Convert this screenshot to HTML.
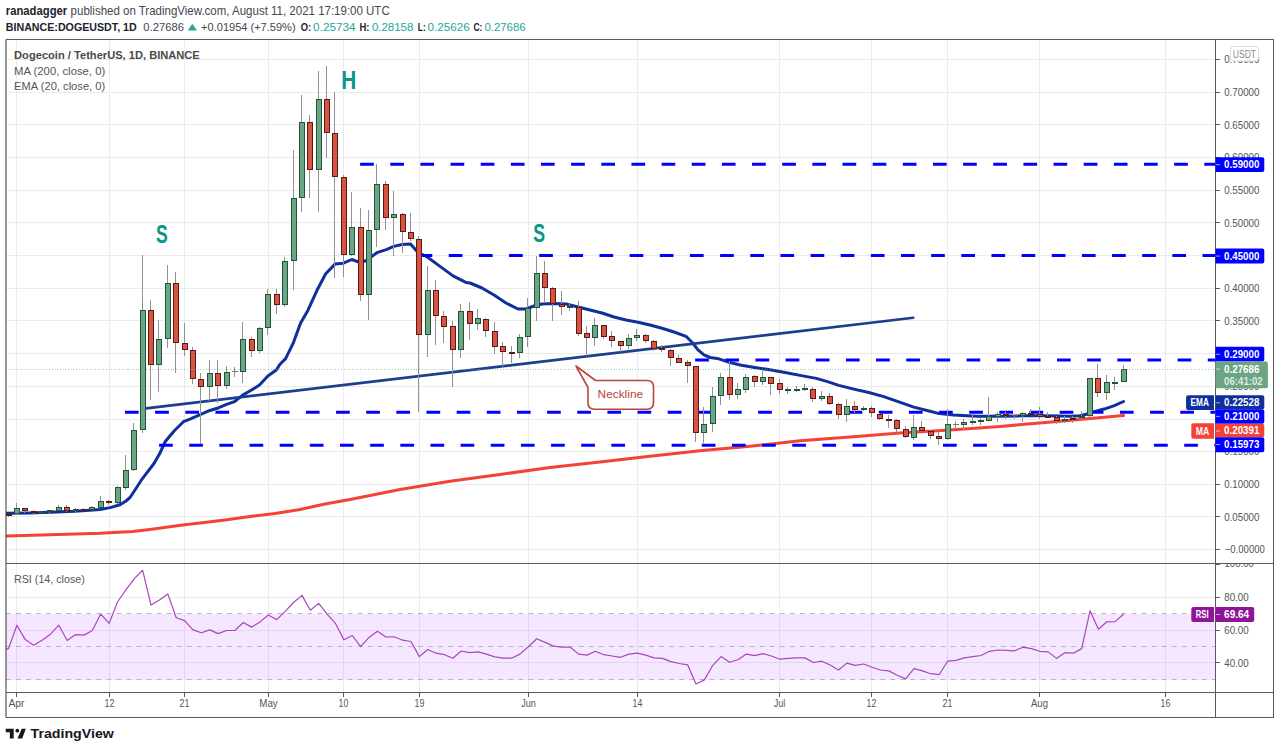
<!DOCTYPE html><html><head><meta charset="utf-8"><title>DOGEUSDT chart</title><style>html,body{margin:0;padding:0;background:#fff;width:1280px;height:751px;overflow:hidden}svg{display:block;font-family:"Liberation Sans",sans-serif}</style></head><body>
<svg width="1280" height="751" viewBox="0 0 1280 751">
<rect width="1280" height="751" fill="#fff"/>
<defs><clipPath id="cp"><rect x="6" y="40" width="1209.5" height="523.5"/></clipPath><clipPath id="cr"><rect x="6" y="563.5" width="1209.5" height="128.5"/></clipPath><clipPath id="cra"><rect x="1215.5" y="564.0" width="58.5" height="128.5"/></clipPath></defs>
<text x="5.8" y="15.4" font-size="12.6" fill="#1e222d" font-weight="bold" textLength="61.4" lengthAdjust="spacingAndGlyphs">ranadagger</text>
<text x="70.6" y="15.4" font-size="12.6" fill="#434651" textLength="319.1" lengthAdjust="spacingAndGlyphs">published on TradingView.com, August 11, 2021 17:19:00 UTC</text>
<text x="5.8" y="30.6" font-size="11" fill="#1e222d" font-weight="bold" textLength="130.9" lengthAdjust="spacingAndGlyphs">BINANCE:DOGEUSDT, 1D</text>
<text x="143.3" y="30.6" font-size="11" fill="#434651" textLength="40.6" lengthAdjust="spacingAndGlyphs">0.27686</text>
<path d="M187.8 30.5 L192.35 23.8 L196.9 30.5 Z" fill="#26a69a"/>
<text x="201.1" y="30.6" font-size="11" fill="#434651" textLength="94.5" lengthAdjust="spacingAndGlyphs">+0.01954 (+7.59%)</text>
<text x="300.8" y="30.6" font-size="11" fill="#1e222d" font-weight="bold" textLength="10.4" lengthAdjust="spacingAndGlyphs">O:</text>
<text x="313.1" y="30.6" font-size="11" fill="#26a69a" textLength="42.5" lengthAdjust="spacingAndGlyphs">0.25734</text>
<text x="359.4" y="30.6" font-size="11" fill="#1e222d" font-weight="bold" textLength="10" lengthAdjust="spacingAndGlyphs">H:</text>
<text x="371.9" y="30.6" font-size="11" fill="#26a69a" textLength="41.5" lengthAdjust="spacingAndGlyphs">0.28158</text>
<text x="417.8" y="30.6" font-size="11" fill="#1e222d" font-weight="bold" textLength="8" lengthAdjust="spacingAndGlyphs">L:</text>
<text x="427.5" y="30.6" font-size="11" fill="#26a69a" textLength="42.2" lengthAdjust="spacingAndGlyphs">0.25626</text>
<text x="473.4" y="30.6" font-size="11" fill="#1e222d" font-weight="bold" textLength="9" lengthAdjust="spacingAndGlyphs">C:</text>
<text x="484.4" y="30.6" font-size="11" fill="#26a69a" textLength="41.2" lengthAdjust="spacingAndGlyphs">0.27686</text>
<g stroke="#ebebeb" stroke-width="1" shape-rendering="crispEdges">
<line x1="6" y1="549.5" x2="1215.5" y2="549.5"/>
<line x1="6" y1="516.5" x2="1215.5" y2="516.5"/>
<line x1="6" y1="484.5" x2="1215.5" y2="484.5"/>
<line x1="6" y1="451.5" x2="1215.5" y2="451.5"/>
<line x1="6" y1="419.5" x2="1215.5" y2="419.5"/>
<line x1="6" y1="386.5" x2="1215.5" y2="386.5"/>
<line x1="6" y1="353.5" x2="1215.5" y2="353.5"/>
<line x1="6" y1="320.5" x2="1215.5" y2="320.5"/>
<line x1="6" y1="288.5" x2="1215.5" y2="288.5"/>
<line x1="6" y1="255.5" x2="1215.5" y2="255.5"/>
<line x1="6" y1="222.5" x2="1215.5" y2="222.5"/>
<line x1="6" y1="190.5" x2="1215.5" y2="190.5"/>
<line x1="6" y1="157.5" x2="1215.5" y2="157.5"/>
<line x1="6" y1="124.5" x2="1215.5" y2="124.5"/>
<line x1="6" y1="92.5" x2="1215.5" y2="92.5"/>
<line x1="6" y1="59.5" x2="1215.5" y2="59.5"/>
<line x1="6" y1="597.5" x2="1215.5" y2="597.5"/>
<line x1="6" y1="630.5" x2="1215.5" y2="630.5"/>
<line x1="6" y1="662.5" x2="1215.5" y2="662.5"/>
<line x1="16.5" y1="40" x2="16.5" y2="692"/>
<line x1="109.5" y1="40" x2="109.5" y2="692"/>
<line x1="184.5" y1="40" x2="184.5" y2="692"/>
<line x1="268.5" y1="40" x2="268.5" y2="692"/>
<line x1="343.5" y1="40" x2="343.5" y2="692"/>
<line x1="419.5" y1="40" x2="419.5" y2="692"/>
<line x1="528.5" y1="40" x2="528.5" y2="692"/>
<line x1="637.5" y1="40" x2="637.5" y2="692"/>
<line x1="779.5" y1="40" x2="779.5" y2="692"/>
<line x1="871.5" y1="40" x2="871.5" y2="692"/>
<line x1="947.5" y1="40" x2="947.5" y2="692"/>
<line x1="1039.5" y1="40" x2="1039.5" y2="692"/>
<line x1="1165.5" y1="40" x2="1165.5" y2="692"/>
</g>
<rect x="6" y="614" width="1209.5" height="66" fill="#9915ff" fill-opacity="0.1"/>
<g stroke="#b4b7be" stroke-width="1" stroke-dasharray="4.7 5.35">
<line x1="6" y1="613.5" x2="1215.5" y2="613.5"/>
<line x1="6" y1="646.5" x2="1215.5" y2="646.5"/>
<line x1="6" y1="679.5" x2="1215.5" y2="679.5"/>
</g>
<g clip-path="url(#cp)" fill="none" stroke-linejoin="round" stroke-linecap="round">
<polyline points="4,536 50,534.7 100,533.3 132.5,531.4 150,529.4 182.5,525 200,523 225,520 250,516.5 275,513.5 300,509.5 325,504 350,499.5 375,494.5 400,489.5 450,481.3 500,474.5 550,467.5 600,462 650,456.3 700,450.7 750,446.3 800,440.8 850,437 900,433 950,430 1000,426.4 1060,421.3 1123.5,415.6" stroke="#f44336" stroke-width="3"/>
<polyline points="4,513.4 30,513 50,512.3 75,511.2 100,509.5 110,507.6 120,504.8 126,501 130,497.5 134,491.5 142.6,478.3 154,463.5 160,453 165.3,441.5 174.3,430.7 183.4,421.7 190,419.1 199.6,414.9 209.2,410.7 218.8,407.7 226,404.7 234.3,401.7 242.7,395.1 251.1,390.3 259.5,385 267.9,376 276.3,370 280,364.2 285.6,358.6 293,343.7 300.5,323.2 308,310.2 317.3,289.7 325.7,273.8 335,264.1 343.4,263.2 351.8,259.5 360.2,262.6 365.8,260.8 376.9,252.7 386.3,249.6 393.7,246.4 402.1,244.5 410.5,244 418,252.4 427.3,257 440,266.4 453,275.9 466.4,282.6 470,283 482,288 494,295 506,303 518,309 526,309 534,306 542,304 554,303.6 566,304 578,307 590,310 602,313 614,317 626,320 638,322.3 650,325 662,328.3 674,332 686,336.3 692,342.3 698,349.9 704,354.9 710,357.5 718.8,358.8 730,362.5 741.3,365.3 756.3,367.8 771.3,370 786.3,372.8 801.3,375.6 816.3,378.4 827.5,381.6 838.8,385.4 853.8,389.1 868.8,392.5 883.8,396.6 898.8,401.9 913.8,407.1 929,411 939.4,413.6 953.4,415 976.9,416.3 1000.3,416.3 1023.8,415.8 1047.2,415.8 1070.6,416.3 1080,415.8 1086.3,414.2 1094,411.6 1105,408.8 1114.4,405.6 1123.5,401.5" stroke="#0f2f9b" stroke-width="3"/>
</g>
<g clip-path="url(#cp)">
<line x1="360.1" y1="164.17" x2="1215.5" y2="164.17" stroke="#0000ff" stroke-width="3" stroke-dasharray="13.7 16.45"/>
<line x1="418.6" y1="255.6" x2="1215.5" y2="255.6" stroke="#0000ff" stroke-width="3" stroke-dasharray="13.7 16.45"/>
<line x1="695.2" y1="360.1" x2="1215.5" y2="360.1" stroke="#0000ff" stroke-width="3" stroke-dasharray="13.7 16.45"/>
<line x1="125" y1="412.35" x2="1215.5" y2="412.35" stroke="#0000ff" stroke-width="3" stroke-dasharray="13.7 16.45"/>
<line x1="159.1" y1="445.18" x2="1215.5" y2="445.18" stroke="#0000ff" stroke-width="3" stroke-dasharray="13.7 16.45"/>
<line x1="146" y1="408.4" x2="913.3" y2="317.7" stroke="#1a3f8c" stroke-width="2.6" stroke-linecap="round"/>
</g>
<g clip-path="url(#cp)">
<path d="M8.5 516V517M16.5 503V508M16.5 514V515M24.5 511V513M33.5 510V511M33.5 513V514M49.5 512V513M58.5 505V507M66.5 505V507M66.5 511V512M75.5 508V509M75.5 511V512M83.5 508V509M91.5 506V507M100.5 496V501M108.5 500V501M108.5 503V505M117.5 486V487M117.5 503V504M125.5 455V470M125.5 488V490M133.5 423V430M133.5 470V471M142.5 255V310M142.5 430V433M150.5 300V310M150.5 365V400M158.5 320V339M158.5 365V392M167.5 265V283M167.5 339V348M175.5 272V283M175.5 343V373M184.5 323V343M184.5 350V356M192.5 347V350M192.5 379V384M200.5 373V379M200.5 387V444M209.5 360V373M209.5 387V401M217.5 360V373M217.5 386V403M226.5 366V372M226.5 386V389M234.5 367V371M234.5 372V377M242.5 322V339M242.5 372V383M251.5 337V339M251.5 351V357M259.5 327V328M259.5 351V353M267.5 289V294M267.5 328V335M276.5 289V294M276.5 305V314M284.5 257V261M284.5 305V307M293.5 150V198M293.5 261V290M301.5 95V122M301.5 198V212M309.5 115V122M309.5 170V198M318.5 71V99M318.5 170V212M326.5 66V99M326.5 133V158M334.5 92V133M334.5 177V278M343.5 175V177M343.5 255V277M351.5 192V227M351.5 255V256M360.5 208V227M360.5 295V301M368.5 210V230M368.5 295V320M376.5 164V184M376.5 230V247M385.5 181V184M385.5 218V230M393.5 191V214M393.5 218V256M402.5 213V214M402.5 232V253M410.5 213V232M410.5 239V241M418.5 236V239M418.5 335V412M427.5 266V290M427.5 335V357M435.5 280V290M435.5 316V345M443.5 311V316M443.5 327V343M452.5 321V326M452.5 350V387M460.5 304V311M460.5 350V358M469.5 302V311M469.5 324V340M477.5 309V318M477.5 324V330M485.5 318V319M485.5 331V337M494.5 322V331M494.5 347V354M502.5 342V346M502.5 352V367M511.5 346V352M511.5 354V363M519.5 334V337M519.5 353V358M527.5 298V308M527.5 337V347M536.5 256V273M536.5 308V321M544.5 261V273M544.5 288V303M552.5 287V288M552.5 304V321M561.5 291V304M561.5 307V315M569.5 303V306M569.5 308V311M578.5 301V307M578.5 334V336M586.5 326V333M586.5 338V356M594.5 318V325M594.5 338V346M603.5 337V339M611.5 331V336M611.5 341V347M620.5 346V352M628.5 334V338M628.5 346V349M636.5 329V335M636.5 338V341M645.5 334V335M645.5 341V343M653.5 340V341M653.5 349V351M661.5 345V348M661.5 350V352M670.5 349V350M670.5 358V366M678.5 355V358M687.5 360V362M687.5 366V383M695.5 433V442M703.5 407V424M703.5 433V443M712.5 387V396M712.5 424V432M720.5 373V377M720.5 396V405M729.5 361V377M729.5 395V400M737.5 383V389M737.5 395V399M745.5 374V377M745.5 390V393M754.5 375V376M754.5 382V387M762.5 369V377M762.5 382V385M770.5 384V395M779.5 379V383M779.5 390V394M787.5 387V389M787.5 391V394M796.5 386V389M796.5 391V392M804.5 384V388M804.5 390V391M812.5 387V389M812.5 399V402M821.5 391V396M821.5 399V401M829.5 393V396M829.5 404V405M838.5 403V404M838.5 415V419M846.5 399V406M846.5 415V422M854.5 401V406M854.5 410V413M863.5 406V408M863.5 410V411M871.5 406V408M871.5 413V417M879.5 413V414M879.5 419V420M888.5 415V419M888.5 421V428M896.5 419V420M896.5 429V432M905.5 426V429M905.5 437V438M913.5 415V427M913.5 438V440M921.5 421V427M921.5 431V432M930.5 430V431M930.5 436V439M938.5 432V436M938.5 439V445M947.5 409V424M947.5 439V440M955.5 421V424M955.5 425V428M963.5 419V422M963.5 425V430M972.5 415V421M972.5 423V425M980.5 418V420M980.5 422V425M988.5 397V416M997.5 412V414M997.5 417V422M1005.5 410V414M1005.5 416V419M1014.5 414V415M1014.5 416V419M1022.5 412V413M1022.5 416V422M1030.5 409V413M1039.5 407V414M1039.5 417V419M1047.5 412V416M1056.5 416V417M1056.5 421V424M1064.5 416V419M1064.5 421V423M1072.5 416V418M1072.5 420V423M1081.5 411V416M1081.5 418V420M1089.5 416V417M1097.5 364V378M1097.5 393V397M1106.5 375V382M1106.5 393V400M1114.5 377V382M1114.5 384V390M1123.5 365V369" stroke="#929294" stroke-width="1" fill="none"/>
<rect x="6" y="514" width="6" height="2" fill="#5b1a13"/><rect x="14.5" y="508.5" width="5" height="5" fill="#6ba583" stroke="#225437" stroke-width="1"/><rect x="22.5" y="508.5" width="5" height="2" fill="#d75442" stroke="#5b1a13" stroke-width="1"/><rect x="31" y="511" width="6" height="2" fill="#5b1a13"/><rect x="39" y="512" width="6" height="2" fill="#225437"/><rect x="47" y="510" width="6" height="2" fill="#225437"/><rect x="56.5" y="507.5" width="5" height="3" fill="#6ba583" stroke="#225437" stroke-width="1"/><rect x="64.5" y="507.5" width="5" height="3" fill="#d75442" stroke="#5b1a13" stroke-width="1"/><rect x="73" y="509" width="6" height="2" fill="#225437"/><rect x="81" y="509" width="6" height="2" fill="#5b1a13"/><rect x="89.5" y="507.5" width="5" height="2" fill="#6ba583" stroke="#225437" stroke-width="1"/><rect x="98.5" y="501.5" width="5" height="6" fill="#6ba583" stroke="#225437" stroke-width="1"/><rect x="106" y="501" width="6" height="2" fill="#5b1a13"/><rect x="115.5" y="487.5" width="5" height="15" fill="#6ba583" stroke="#225437" stroke-width="1"/><rect x="123.5" y="470.5" width="5" height="17" fill="#6ba583" stroke="#225437" stroke-width="1"/><rect x="131.5" y="430.5" width="5" height="39" fill="#6ba583" stroke="#225437" stroke-width="1"/><rect x="140.5" y="310.5" width="5" height="119" fill="#6ba583" stroke="#225437" stroke-width="1"/><rect x="148.5" y="310.5" width="5" height="54" fill="#d75442" stroke="#5b1a13" stroke-width="1"/><rect x="156.5" y="339.5" width="5" height="25" fill="#6ba583" stroke="#225437" stroke-width="1"/><rect x="165.5" y="283.5" width="5" height="55" fill="#6ba583" stroke="#225437" stroke-width="1"/><rect x="173.5" y="283.5" width="5" height="59" fill="#d75442" stroke="#5b1a13" stroke-width="1"/><rect x="182.5" y="343.5" width="5" height="6" fill="#d75442" stroke="#5b1a13" stroke-width="1"/><rect x="190.5" y="350.5" width="5" height="28" fill="#d75442" stroke="#5b1a13" stroke-width="1"/><rect x="198.5" y="379.5" width="5" height="7" fill="#d75442" stroke="#5b1a13" stroke-width="1"/><rect x="207.5" y="373.5" width="5" height="13" fill="#6ba583" stroke="#225437" stroke-width="1"/><rect x="215.5" y="373.5" width="5" height="12" fill="#d75442" stroke="#5b1a13" stroke-width="1"/><rect x="224.5" y="372.5" width="5" height="13" fill="#6ba583" stroke="#225437" stroke-width="1"/><rect x="232" y="371" width="6" height="1" fill="#4f8a66"/><rect x="240.5" y="339.5" width="5" height="32" fill="#6ba583" stroke="#225437" stroke-width="1"/><rect x="249.5" y="339.5" width="5" height="11" fill="#d75442" stroke="#5b1a13" stroke-width="1"/><rect x="257.5" y="328.5" width="5" height="22" fill="#6ba583" stroke="#225437" stroke-width="1"/><rect x="265.5" y="294.5" width="5" height="33" fill="#6ba583" stroke="#225437" stroke-width="1"/><rect x="274.5" y="294.5" width="5" height="10" fill="#d75442" stroke="#5b1a13" stroke-width="1"/><rect x="282.5" y="261.5" width="5" height="43" fill="#6ba583" stroke="#225437" stroke-width="1"/><rect x="291.5" y="198.5" width="5" height="62" fill="#6ba583" stroke="#225437" stroke-width="1"/><rect x="299.5" y="122.5" width="5" height="75" fill="#6ba583" stroke="#225437" stroke-width="1"/><rect x="307.5" y="122.5" width="5" height="47" fill="#d75442" stroke="#5b1a13" stroke-width="1"/><rect x="316.5" y="99.5" width="5" height="70" fill="#6ba583" stroke="#225437" stroke-width="1"/><rect x="324.5" y="99.5" width="5" height="33" fill="#d75442" stroke="#5b1a13" stroke-width="1"/><rect x="332.5" y="133.5" width="5" height="43" fill="#d75442" stroke="#5b1a13" stroke-width="1"/><rect x="341.5" y="177.5" width="5" height="77" fill="#d75442" stroke="#5b1a13" stroke-width="1"/><rect x="349.5" y="227.5" width="5" height="27" fill="#6ba583" stroke="#225437" stroke-width="1"/><rect x="358.5" y="227.5" width="5" height="67" fill="#d75442" stroke="#5b1a13" stroke-width="1"/><rect x="366.5" y="230.5" width="5" height="64" fill="#6ba583" stroke="#225437" stroke-width="1"/><rect x="374.5" y="184.5" width="5" height="45" fill="#6ba583" stroke="#225437" stroke-width="1"/><rect x="383.5" y="184.5" width="5" height="33" fill="#d75442" stroke="#5b1a13" stroke-width="1"/><rect x="391.5" y="214.5" width="5" height="3" fill="#6ba583" stroke="#225437" stroke-width="1"/><rect x="400.5" y="214.5" width="5" height="17" fill="#d75442" stroke="#5b1a13" stroke-width="1"/><rect x="408.5" y="232.5" width="5" height="6" fill="#d75442" stroke="#5b1a13" stroke-width="1"/><rect x="416.5" y="239.5" width="5" height="95" fill="#d75442" stroke="#5b1a13" stroke-width="1"/><rect x="425.5" y="290.5" width="5" height="44" fill="#6ba583" stroke="#225437" stroke-width="1"/><rect x="433.5" y="290.5" width="5" height="25" fill="#d75442" stroke="#5b1a13" stroke-width="1"/><rect x="441.5" y="316.5" width="5" height="10" fill="#d75442" stroke="#5b1a13" stroke-width="1"/><rect x="450.5" y="326.5" width="5" height="23" fill="#d75442" stroke="#5b1a13" stroke-width="1"/><rect x="458.5" y="311.5" width="5" height="38" fill="#6ba583" stroke="#225437" stroke-width="1"/><rect x="467.5" y="311.5" width="5" height="12" fill="#d75442" stroke="#5b1a13" stroke-width="1"/><rect x="475.5" y="318.5" width="5" height="5" fill="#6ba583" stroke="#225437" stroke-width="1"/><rect x="483.5" y="319.5" width="5" height="11" fill="#d75442" stroke="#5b1a13" stroke-width="1"/><rect x="492.5" y="331.5" width="5" height="15" fill="#d75442" stroke="#5b1a13" stroke-width="1"/><rect x="500.5" y="346.5" width="5" height="5" fill="#d75442" stroke="#5b1a13" stroke-width="1"/><rect x="509" y="352" width="6" height="2" fill="#5b1a13"/><rect x="517.5" y="337.5" width="5" height="15" fill="#6ba583" stroke="#225437" stroke-width="1"/><rect x="525.5" y="308.5" width="5" height="28" fill="#6ba583" stroke="#225437" stroke-width="1"/><rect x="534.5" y="273.5" width="5" height="34" fill="#6ba583" stroke="#225437" stroke-width="1"/><rect x="542.5" y="273.5" width="5" height="14" fill="#d75442" stroke="#5b1a13" stroke-width="1"/><rect x="550.5" y="288.5" width="5" height="15" fill="#d75442" stroke="#5b1a13" stroke-width="1"/><rect x="559.5" y="304.5" width="5" height="2" fill="#d75442" stroke="#5b1a13" stroke-width="1"/><rect x="567" y="306" width="6" height="2" fill="#225437"/><rect x="576.5" y="307.5" width="5" height="26" fill="#d75442" stroke="#5b1a13" stroke-width="1"/><rect x="584.5" y="333.5" width="5" height="4" fill="#d75442" stroke="#5b1a13" stroke-width="1"/><rect x="592.5" y="325.5" width="5" height="12" fill="#6ba583" stroke="#225437" stroke-width="1"/><rect x="601.5" y="325.5" width="5" height="11" fill="#d75442" stroke="#5b1a13" stroke-width="1"/><rect x="609.5" y="336.5" width="5" height="4" fill="#d75442" stroke="#5b1a13" stroke-width="1"/><rect x="618.5" y="341.5" width="5" height="4" fill="#d75442" stroke="#5b1a13" stroke-width="1"/><rect x="626.5" y="338.5" width="5" height="7" fill="#6ba583" stroke="#225437" stroke-width="1"/><rect x="634.5" y="335.5" width="5" height="2" fill="#6ba583" stroke="#225437" stroke-width="1"/><rect x="643.5" y="335.5" width="5" height="5" fill="#d75442" stroke="#5b1a13" stroke-width="1"/><rect x="651.5" y="341.5" width="5" height="7" fill="#d75442" stroke="#5b1a13" stroke-width="1"/><rect x="659" y="348" width="6" height="2" fill="#5b1a13"/><rect x="668.5" y="350.5" width="5" height="7" fill="#d75442" stroke="#5b1a13" stroke-width="1"/><rect x="676.5" y="358.5" width="5" height="4" fill="#d75442" stroke="#5b1a13" stroke-width="1"/><rect x="685.5" y="362.5" width="5" height="3" fill="#d75442" stroke="#5b1a13" stroke-width="1"/><rect x="693.5" y="366.5" width="5" height="66" fill="#d75442" stroke="#5b1a13" stroke-width="1"/><rect x="701.5" y="424.5" width="5" height="8" fill="#6ba583" stroke="#225437" stroke-width="1"/><rect x="710.5" y="396.5" width="5" height="27" fill="#6ba583" stroke="#225437" stroke-width="1"/><rect x="718.5" y="377.5" width="5" height="18" fill="#6ba583" stroke="#225437" stroke-width="1"/><rect x="727.5" y="377.5" width="5" height="17" fill="#d75442" stroke="#5b1a13" stroke-width="1"/><rect x="735.5" y="389.5" width="5" height="5" fill="#6ba583" stroke="#225437" stroke-width="1"/><rect x="743.5" y="377.5" width="5" height="12" fill="#6ba583" stroke="#225437" stroke-width="1"/><rect x="752.5" y="376.5" width="5" height="5" fill="#d75442" stroke="#5b1a13" stroke-width="1"/><rect x="760.5" y="377.5" width="5" height="4" fill="#6ba583" stroke="#225437" stroke-width="1"/><rect x="768.5" y="377.5" width="5" height="6" fill="#d75442" stroke="#5b1a13" stroke-width="1"/><rect x="777.5" y="383.5" width="5" height="6" fill="#d75442" stroke="#5b1a13" stroke-width="1"/><rect x="785" y="389" width="6" height="2" fill="#225437"/><rect x="794" y="389" width="6" height="2" fill="#225437"/><rect x="802" y="388" width="6" height="2" fill="#225437"/><rect x="810.5" y="389.5" width="5" height="9" fill="#d75442" stroke="#5b1a13" stroke-width="1"/><rect x="819.5" y="396.5" width="5" height="2" fill="#6ba583" stroke="#225437" stroke-width="1"/><rect x="827.5" y="396.5" width="5" height="7" fill="#d75442" stroke="#5b1a13" stroke-width="1"/><rect x="836.5" y="404.5" width="5" height="10" fill="#d75442" stroke="#5b1a13" stroke-width="1"/><rect x="844.5" y="406.5" width="5" height="8" fill="#6ba583" stroke="#225437" stroke-width="1"/><rect x="852.5" y="406.5" width="5" height="3" fill="#d75442" stroke="#5b1a13" stroke-width="1"/><rect x="861" y="408" width="6" height="2" fill="#225437"/><rect x="869.5" y="408.5" width="5" height="4" fill="#d75442" stroke="#5b1a13" stroke-width="1"/><rect x="877.5" y="414.5" width="5" height="4" fill="#d75442" stroke="#5b1a13" stroke-width="1"/><rect x="886" y="419" width="6" height="2" fill="#5b1a13"/><rect x="894.5" y="420.5" width="5" height="8" fill="#d75442" stroke="#5b1a13" stroke-width="1"/><rect x="903.5" y="429.5" width="5" height="7" fill="#d75442" stroke="#5b1a13" stroke-width="1"/><rect x="911.5" y="427.5" width="5" height="10" fill="#6ba583" stroke="#225437" stroke-width="1"/><rect x="919.5" y="427.5" width="5" height="3" fill="#d75442" stroke="#5b1a13" stroke-width="1"/><rect x="928.5" y="431.5" width="5" height="4" fill="#d75442" stroke="#5b1a13" stroke-width="1"/><rect x="936.5" y="436.5" width="5" height="2" fill="#d75442" stroke="#5b1a13" stroke-width="1"/><rect x="945.5" y="424.5" width="5" height="14" fill="#6ba583" stroke="#225437" stroke-width="1"/><rect x="953" y="424" width="6" height="1" fill="#4f8a66"/><rect x="961.5" y="422.5" width="5" height="2" fill="#6ba583" stroke="#225437" stroke-width="1"/><rect x="970" y="421" width="6" height="2" fill="#225437"/><rect x="978" y="420" width="6" height="2" fill="#225437"/><rect x="986.5" y="416.5" width="5" height="4" fill="#6ba583" stroke="#225437" stroke-width="1"/><rect x="995.5" y="414.5" width="5" height="2" fill="#6ba583" stroke="#225437" stroke-width="1"/><rect x="1003" y="414" width="6" height="2" fill="#5b1a13"/><rect x="1012" y="415" width="6" height="1" fill="#a8402f"/><rect x="1020.5" y="413.5" width="5" height="2" fill="#6ba583" stroke="#225437" stroke-width="1"/><rect x="1028" y="413" width="6" height="2" fill="#5b1a13"/><rect x="1037.5" y="414.5" width="5" height="2" fill="#d75442" stroke="#5b1a13" stroke-width="1"/><rect x="1045" y="416" width="6" height="2" fill="#5b1a13"/><rect x="1054.5" y="417.5" width="5" height="3" fill="#d75442" stroke="#5b1a13" stroke-width="1"/><rect x="1062" y="419" width="6" height="2" fill="#225437"/><rect x="1070" y="418" width="6" height="2" fill="#5b1a13"/><rect x="1079" y="416" width="6" height="2" fill="#225437"/><rect x="1087.5" y="378.5" width="5" height="37" fill="#6ba583" stroke="#225437" stroke-width="1"/><rect x="1095.5" y="378.5" width="5" height="14" fill="#d75442" stroke="#5b1a13" stroke-width="1"/><rect x="1104.5" y="382.5" width="5" height="10" fill="#6ba583" stroke="#225437" stroke-width="1"/><rect x="1112" y="382" width="6" height="2" fill="#225437"/><rect x="1121.5" y="369.5" width="5" height="12" fill="#6ba583" stroke="#225437" stroke-width="1"/>
</g>
<line x1="6" y1="369.5" x2="1215.5" y2="369.5" stroke="#6ba583" stroke-width="1" stroke-dasharray="1 1.7" stroke-opacity="0.6" shape-rendering="crispEdges"/>
<path d="M576 366 L595.5 380.5 L647 380.5 Q653.5 380.5 653.5 387 L653.5 403 Q653.5 409.2 647 409.2 L594.5 409.2 Q588 409.2 588 403 L588 387.5 Z" fill="#fff" stroke="#b8453e" stroke-width="1.6" stroke-linejoin="round"/>
<text x="597.6" y="397.6" font-size="11.3" fill="#b8453e" textLength="45.5" lengthAdjust="spacingAndGlyphs">Neckline</text>
<text x="156" y="243" font-size="25.5" fill="#089688" font-weight="bold" textLength="11.7" lengthAdjust="spacingAndGlyphs">S</text>
<text x="341.3" y="89.3" font-size="25.5" fill="#089688" font-weight="bold" textLength="15" lengthAdjust="spacingAndGlyphs">H</text>
<text x="533.2" y="242" font-size="25.5" fill="#089688" font-weight="bold" textLength="11.8" lengthAdjust="spacingAndGlyphs">S</text>
<text x="14.1" y="58.9" font-size="11.3" fill="#4a4a4a" font-weight="bold" textLength="185.7" lengthAdjust="spacingAndGlyphs">Dogecoin / TetherUS, 1D, BINANCE</text>
<text x="14.1" y="74.8" font-size="11.3" fill="#555555" textLength="91.1" lengthAdjust="spacingAndGlyphs">MA (200, close, 0)</text>
<text x="14.1" y="90.1" font-size="11.3" fill="#555555" textLength="91.1" lengthAdjust="spacingAndGlyphs">EMA (20, close, 0)</text>
<polyline clip-path="url(#cr)" points="6,649.47 8.52,648.6 16.9,625.2 25.28,639.6 33.67,645.2 42.05,640.2 50.44,634.2 58.82,625.2 67.2,640.5 75.59,634.6 83.97,635.1 92.36,630.5 100.74,614.1 109.12,623.4 117.51,602 125.89,589.8 134.28,578.6 142.66,570.3 151.04,605.1 159.43,600.1 167.81,593.9 176.2,617.8 184.58,620.6 192.96,629.9 201.35,632.7 209.73,629.9 218.12,633.6 226.5,630.5 234.88,630.5 243.27,622.5 251.65,627.1 260.04,621.9 268.42,615 276.8,619.7 285.19,611.3 293.57,602.5 301.96,595.4 310.34,610.3 318.72,603.4 327.11,614.1 335.49,623.4 343.88,639.8 352.26,635.5 360.64,646.7 369.03,637.4 377.41,631.2 385.8,637 394.18,636.8 402.56,640.2 410.95,641.5 419.33,656.6 427.72,649.5 436.1,653.2 444.48,654.7 452.87,658.2 461.25,651 469.64,652.7 478.02,651.9 486.4,654.1 494.79,656.9 503.17,658.2 511.56,658.2 519.94,654.1 528.32,646.7 536.71,638.7 545.09,642.4 553.48,646.1 561.86,647.2 570.24,647.2 578.63,654.1 587.01,655.1 595.4,651.3 603.78,654.7 612.16,656 620.55,657.3 628.93,654.1 637.32,653.2 645.7,655.1 654.08,657.9 662.47,658.4 670.85,661.6 679.24,663.5 687.62,664.8 696,684 704.39,679.9 712.77,665.3 721.16,656.6 729.54,662.2 737.92,659.7 746.31,654.1 754.69,655.6 763.08,653.7 771.46,656 779.84,659.2 788.23,658.4 796.61,657.9 805,657.9 813.38,662.5 821.76,661.2 830.15,665 838.53,670 846.92,663.1 855.3,665.3 863.68,664 872.07,667.2 880.45,670 888.84,670.9 897.22,675.2 905.6,678.9 913.99,668.7 922.37,670.9 930.76,673.7 939.14,674.7 947.52,661.2 955.91,660.3 964.29,657.9 972.68,656.6 981.06,655.5 989.44,651.3 997.83,650 1006.21,650.4 1014.6,650.8 1022.98,647.2 1031.36,648.6 1039.75,651.3 1048.13,651.9 1056.52,658.4 1064.9,652.7 1073.28,653.2 1081.67,648.6 1090.05,610.8 1098.44,629.2 1106.82,621.8 1115.2,621.6 1123.59,614" fill="none" stroke="#aa45be" stroke-width="1.2" stroke-linejoin="round"/>
<text x="14" y="583.3" font-size="11.3" fill="#555555" textLength="70.8" lengthAdjust="spacingAndGlyphs">RSI (14, close)</text>
<g stroke="#5a5a5a" stroke-width="1" fill="none" shape-rendering="crispEdges">
<line x1="5.5" y1="39.5" x2="1274" y2="39.5"/>
<line x1="5.5" y1="717.5" x2="1274" y2="717.5"/>
<line x1="1273.5" y1="39.5" x2="1273.5" y2="717.5"/>
</g>
<line x1="6" y1="39.5" x2="6" y2="717.5" stroke="#333" stroke-width="1"/>
<g stroke="#5a5a5a" stroke-width="1" fill="none" shape-rendering="crispEdges">
<line x1="5.5" y1="563.5" x2="1274" y2="563.5"/>
<line x1="5.5" y1="692.5" x2="1274" y2="692.5"/>
<line x1="1215.5" y1="39.5" x2="1215.5" y2="717.5"/>
</g>
<g stroke="#5a5a5a" stroke-width="1" shape-rendering="crispEdges">
<line x1="1216" y1="549.5" x2="1220" y2="549.5"/>
<line x1="1216" y1="516.5" x2="1220" y2="516.5"/>
<line x1="1216" y1="484.5" x2="1220" y2="484.5"/>
<line x1="1216" y1="451.5" x2="1220" y2="451.5"/>
<line x1="1216" y1="419.5" x2="1220" y2="419.5"/>
<line x1="1216" y1="386.5" x2="1220" y2="386.5"/>
<line x1="1216" y1="353.5" x2="1220" y2="353.5"/>
<line x1="1216" y1="320.5" x2="1220" y2="320.5"/>
<line x1="1216" y1="288.5" x2="1220" y2="288.5"/>
<line x1="1216" y1="255.5" x2="1220" y2="255.5"/>
<line x1="1216" y1="222.5" x2="1220" y2="222.5"/>
<line x1="1216" y1="190.5" x2="1220" y2="190.5"/>
<line x1="1216" y1="157.5" x2="1220" y2="157.5"/>
<line x1="1216" y1="124.5" x2="1220" y2="124.5"/>
<line x1="1216" y1="92.5" x2="1220" y2="92.5"/>
<line x1="1216" y1="59.5" x2="1220" y2="59.5"/>
<line x1="1216" y1="564.5" x2="1220" y2="564.5"/>
<line x1="1216" y1="597.5" x2="1220" y2="597.5"/>
<line x1="1216" y1="630.5" x2="1220" y2="630.5"/>
<line x1="1216" y1="662.5" x2="1220" y2="662.5"/>
</g>
<text x="1224.8" y="553.2" font-size="10.6" fill="#555555" textLength="40" lengthAdjust="spacingAndGlyphs">−0.00000</text>
<text x="1224.2" y="520.55" font-size="10.6" fill="#555555" textLength="35.2" lengthAdjust="spacingAndGlyphs">0.05000</text>
<text x="1224.2" y="487.89" font-size="10.6" fill="#555555" textLength="35.2" lengthAdjust="spacingAndGlyphs">0.10000</text>
<text x="1224.2" y="455.23" font-size="10.6" fill="#555555" textLength="35.2" lengthAdjust="spacingAndGlyphs">0.15000</text>
<text x="1224.2" y="422.58" font-size="10.6" fill="#555555" textLength="35.2" lengthAdjust="spacingAndGlyphs">0.20000</text>
<text x="1224.2" y="389.93" font-size="10.6" fill="#555555" textLength="35.2" lengthAdjust="spacingAndGlyphs">0.25000</text>
<text x="1224.2" y="357.27" font-size="10.6" fill="#555555" textLength="35.2" lengthAdjust="spacingAndGlyphs">0.30000</text>
<text x="1224.2" y="324.61" font-size="10.6" fill="#555555" textLength="35.2" lengthAdjust="spacingAndGlyphs">0.35000</text>
<text x="1224.2" y="291.96" font-size="10.6" fill="#555555" textLength="35.2" lengthAdjust="spacingAndGlyphs">0.40000</text>
<text x="1224.2" y="259.3" font-size="10.6" fill="#555555" textLength="35.2" lengthAdjust="spacingAndGlyphs">0.45000</text>
<text x="1224.2" y="226.65" font-size="10.6" fill="#555555" textLength="35.2" lengthAdjust="spacingAndGlyphs">0.50000</text>
<text x="1224.2" y="193.99" font-size="10.6" fill="#555555" textLength="35.2" lengthAdjust="spacingAndGlyphs">0.55000</text>
<text x="1224.2" y="161.34" font-size="10.6" fill="#555555" textLength="35.2" lengthAdjust="spacingAndGlyphs">0.60000</text>
<text x="1224.2" y="128.68" font-size="10.6" fill="#555555" textLength="35.2" lengthAdjust="spacingAndGlyphs">0.65000</text>
<text x="1224.2" y="96.03" font-size="10.6" fill="#555555" textLength="35.2" lengthAdjust="spacingAndGlyphs">0.70000</text>
<text x="1224.2" y="63.37" font-size="10.6" fill="#555555" textLength="35.2" lengthAdjust="spacingAndGlyphs">0.75000</text>
<text x="1224.5" y="567.4" font-size="10.6" fill="#555555" textLength="29.3" lengthAdjust="spacingAndGlyphs" clip-path="url(#cra)">100.00</text>
<text x="1224.2" y="600.5" font-size="10.6" fill="#555555" textLength="24.5" lengthAdjust="spacingAndGlyphs" clip-path="url(#cra)">80.00</text>
<text x="1224.2" y="633.6" font-size="10.6" fill="#555555" textLength="24.5" lengthAdjust="spacingAndGlyphs" clip-path="url(#cra)">60.00</text>
<text x="1224.2" y="666.7" font-size="10.6" fill="#555555" textLength="24.5" lengthAdjust="spacingAndGlyphs" clip-path="url(#cra)">40.00</text>
<rect x="1230.5" y="46.5" width="28" height="14.5" rx="3" fill="#fff" stroke="#dcdcdc" stroke-width="1"/>
<text x="1232.8" y="57.7" font-size="10.6" fill="#8a8a8a" textLength="23.2" lengthAdjust="spacingAndGlyphs">USDT</text>
<path d="M1215.5 157.3 H1262.3 Q1264.3 157.3 1264.3 159.3 V170 Q1264.3 172 1262.3 172 H1215.5 Z" fill="#0000ff"/>
<line x1="1216" y1="164.65" x2="1220" y2="164.65" stroke="#fff" stroke-opacity="0.6" stroke-width="1"/>
<text x="1224.1" y="168.35" font-size="10.6" fill="#fff" font-weight="bold" textLength="35.2" lengthAdjust="spacingAndGlyphs">0.59000</text>
<path d="M1215.5 248.6 H1262.3 Q1264.3 248.6 1264.3 250.6 V261.6 Q1264.3 263.6 1262.3 263.6 H1215.5 Z" fill="#0000ff"/>
<line x1="1216" y1="256.1" x2="1220" y2="256.1" stroke="#fff" stroke-opacity="0.6" stroke-width="1"/>
<text x="1224.1" y="259.8" font-size="10.6" fill="#fff" font-weight="bold" textLength="35.2" lengthAdjust="spacingAndGlyphs">0.45000</text>
<path d="M1215.5 346.7 H1262.3 Q1264.3 346.7 1264.3 348.7 V359.4 Q1264.3 361.4 1262.3 361.4 H1215.5 Z" fill="#0000ff"/>
<line x1="1216" y1="354.3" x2="1220" y2="354.3" stroke="#fff" stroke-opacity="0.6" stroke-width="1"/>
<text x="1224.1" y="357.75" font-size="10.6" fill="#fff" font-weight="bold" textLength="35.2" lengthAdjust="spacingAndGlyphs">0.29000</text>
<path d="M1215.5 361.4 H1265.9 Q1267.9 361.4 1267.9 363.4 V386.3 Q1267.9 388.3 1265.9 388.3 H1215.5 Z" fill="#6ba583"/>
<line x1="1216" y1="369.1" x2="1220" y2="369.1" stroke="#fff" stroke-opacity="0.6" stroke-width="1"/>
<text x="1224.1" y="373.3" font-size="10.6" fill="#fff" font-weight="bold" textLength="35.3" lengthAdjust="spacingAndGlyphs">0.27686</text>
<text x="1224.1" y="385" font-size="10.6" fill="#fff" font-weight="bold" textLength="38.6" lengthAdjust="spacingAndGlyphs" fill-opacity="0.8">06:41:02</text>
<path d="M1215.5 395.2 H1262.3 Q1264.3 395.2 1264.3 397.2 V407.2 Q1264.3 409.2 1262.3 409.2 H1215.5 Z" fill="#0f2f9b"/>
<line x1="1216" y1="402.8" x2="1220" y2="402.8" stroke="#fff" stroke-opacity="0.6" stroke-width="1"/>
<text x="1224.1" y="405.9" font-size="10.6" fill="#fff" font-weight="bold" textLength="35.2" lengthAdjust="spacingAndGlyphs">0.22528</text>
<path d="M1214 395.2 H1188.1 Q1186.1 395.2 1186.1 397.2 V408 Q1186.1 410 1188.1 410 H1214 Z" fill="#0f2f9b"/>
<text x="1190.6" y="406.3" font-size="10.6" fill="#fff" font-weight="bold" textLength="18.4" lengthAdjust="spacingAndGlyphs">EMA</text>
<path d="M1215.5 409.2 H1262.3 Q1264.3 409.2 1264.3 411.2 V421.8 Q1264.3 423.8 1262.3 423.8 H1215.5 Z" fill="#0000ff"/>
<line x1="1216" y1="416.4" x2="1220" y2="416.4" stroke="#fff" stroke-opacity="0.6" stroke-width="1"/>
<text x="1224.1" y="420.2" font-size="10.6" fill="#fff" font-weight="bold" textLength="35.2" lengthAdjust="spacingAndGlyphs">0.21000</text>
<path d="M1215.5 423.8 H1262.3 Q1264.3 423.8 1264.3 425.8 V435.2 Q1264.3 437.2 1262.3 437.2 H1215.5 Z" fill="#f44336"/>
<line x1="1216" y1="431.1" x2="1220" y2="431.1" stroke="#fff" stroke-opacity="0.6" stroke-width="1"/>
<text x="1224.1" y="434.2" font-size="10.6" fill="#fff" font-weight="bold" textLength="35.2" lengthAdjust="spacingAndGlyphs">0.20391</text>
<path d="M1214 423.3 H1193.3 Q1191.3 423.3 1191.3 425.3 V436.7 Q1191.3 438.7 1193.3 438.7 H1214 Z" fill="#f44336"/>
<text x="1195.8" y="434.7" font-size="10.6" fill="#fff" font-weight="bold" textLength="13.5" lengthAdjust="spacingAndGlyphs">MA</text>
<path d="M1215.5 437.2 H1262.3 Q1264.3 437.2 1264.3 439.2 V450.3 Q1264.3 452.3 1262.3 452.3 H1215.5 Z" fill="#0000ff"/>
<line x1="1216" y1="444.5" x2="1220" y2="444.5" stroke="#fff" stroke-opacity="0.6" stroke-width="1"/>
<text x="1224.1" y="448.45" font-size="10.6" fill="#fff" font-weight="bold" textLength="35.2" lengthAdjust="spacingAndGlyphs">0.15973</text>
<path d="M1215.5 606.9 H1252.2 Q1254.2 606.9 1254.2 608.9 V620.1 Q1254.2 622.1 1252.2 622.1 H1215.5 Z" fill="#8e1599"/>
<line x1="1216" y1="614.5" x2="1220" y2="614.5" stroke="#fff" stroke-opacity="0.6" stroke-width="1"/>
<text x="1224.1" y="618.2" font-size="10.6" fill="#fff" font-weight="bold" textLength="25.1" lengthAdjust="spacingAndGlyphs">69.64</text>
<path d="M1214 606.9 H1193.3 Q1191.3 606.9 1191.3 608.9 V620.1 Q1191.3 622.1 1193.3 622.1 H1214 Z" fill="#8e1599"/>
<text x="1195.8" y="618.2" font-size="10.6" fill="#fff" font-weight="bold" textLength="12.8" lengthAdjust="spacingAndGlyphs">RSI</text>
<g stroke="#5a5a5a" stroke-width="1" shape-rendering="crispEdges">
<line x1="16.5" y1="693" x2="16.5" y2="696.5"/>
<line x1="109.5" y1="693" x2="109.5" y2="696.5"/>
<line x1="184.5" y1="693" x2="184.5" y2="696.5"/>
<line x1="268.5" y1="693" x2="268.5" y2="696.5"/>
<line x1="343.5" y1="693" x2="343.5" y2="696.5"/>
<line x1="419.5" y1="693" x2="419.5" y2="696.5"/>
<line x1="528.5" y1="693" x2="528.5" y2="696.5"/>
<line x1="637.5" y1="693" x2="637.5" y2="696.5"/>
<line x1="779.5" y1="693" x2="779.5" y2="696.5"/>
<line x1="871.5" y1="693" x2="871.5" y2="696.5"/>
<line x1="947.5" y1="693" x2="947.5" y2="696.5"/>
<line x1="1039.5" y1="693" x2="1039.5" y2="696.5"/>
<line x1="1165.5" y1="693" x2="1165.5" y2="696.5"/>
</g>
<text x="16.5" y="707.3" font-size="10.6" fill="#555555" textLength="16.1" lengthAdjust="spacingAndGlyphs" text-anchor="middle">Apr</text>
<text x="109.5" y="707.3" font-size="10.6" fill="#555555" textLength="9.8" lengthAdjust="spacingAndGlyphs" text-anchor="middle">12</text>
<text x="184.5" y="707.3" font-size="10.6" fill="#555555" textLength="9.8" lengthAdjust="spacingAndGlyphs" text-anchor="middle">21</text>
<text x="268.5" y="707.3" font-size="10.6" fill="#555555" textLength="18.4" lengthAdjust="spacingAndGlyphs" text-anchor="middle">May</text>
<text x="343.5" y="707.3" font-size="10.6" fill="#555555" textLength="9.8" lengthAdjust="spacingAndGlyphs" text-anchor="middle">10</text>
<text x="419.5" y="707.3" font-size="10.6" fill="#555555" textLength="9.8" lengthAdjust="spacingAndGlyphs" text-anchor="middle">19</text>
<text x="528.5" y="707.3" font-size="10.6" fill="#555555" textLength="14.6" lengthAdjust="spacingAndGlyphs" text-anchor="middle">Jun</text>
<text x="637.5" y="707.3" font-size="10.6" fill="#555555" textLength="9.8" lengthAdjust="spacingAndGlyphs" text-anchor="middle">14</text>
<text x="779.5" y="707.3" font-size="10.6" fill="#555555" textLength="11.6" lengthAdjust="spacingAndGlyphs" text-anchor="middle">Jul</text>
<text x="871.5" y="707.3" font-size="10.6" fill="#555555" textLength="9.8" lengthAdjust="spacingAndGlyphs" text-anchor="middle">12</text>
<text x="947.5" y="707.3" font-size="10.6" fill="#555555" textLength="9.8" lengthAdjust="spacingAndGlyphs" text-anchor="middle">21</text>
<text x="1039.5" y="707.3" font-size="10.6" fill="#555555" textLength="17" lengthAdjust="spacingAndGlyphs" text-anchor="middle">Aug</text>
<text x="1165.5" y="707.3" font-size="10.6" fill="#555555" textLength="9.8" lengthAdjust="spacingAndGlyphs" text-anchor="middle">16</text>
<g fill="#131722">
<path d="M5.7 728.8 H13.7 V738.5 H9.8 V732.3 H5.7 Z"/>
<circle cx="17.3" cy="730.7" r="1.9"/>
<path d="M21.7 728.8 H25.8 L22.2 738.5 H17.5 Z"/>
</g>
<text x="30.5" y="738.3" font-size="13.6" fill="#131722" font-weight="bold" textLength="83.4" lengthAdjust="spacingAndGlyphs">TradingView</text>
</svg></body></html>
